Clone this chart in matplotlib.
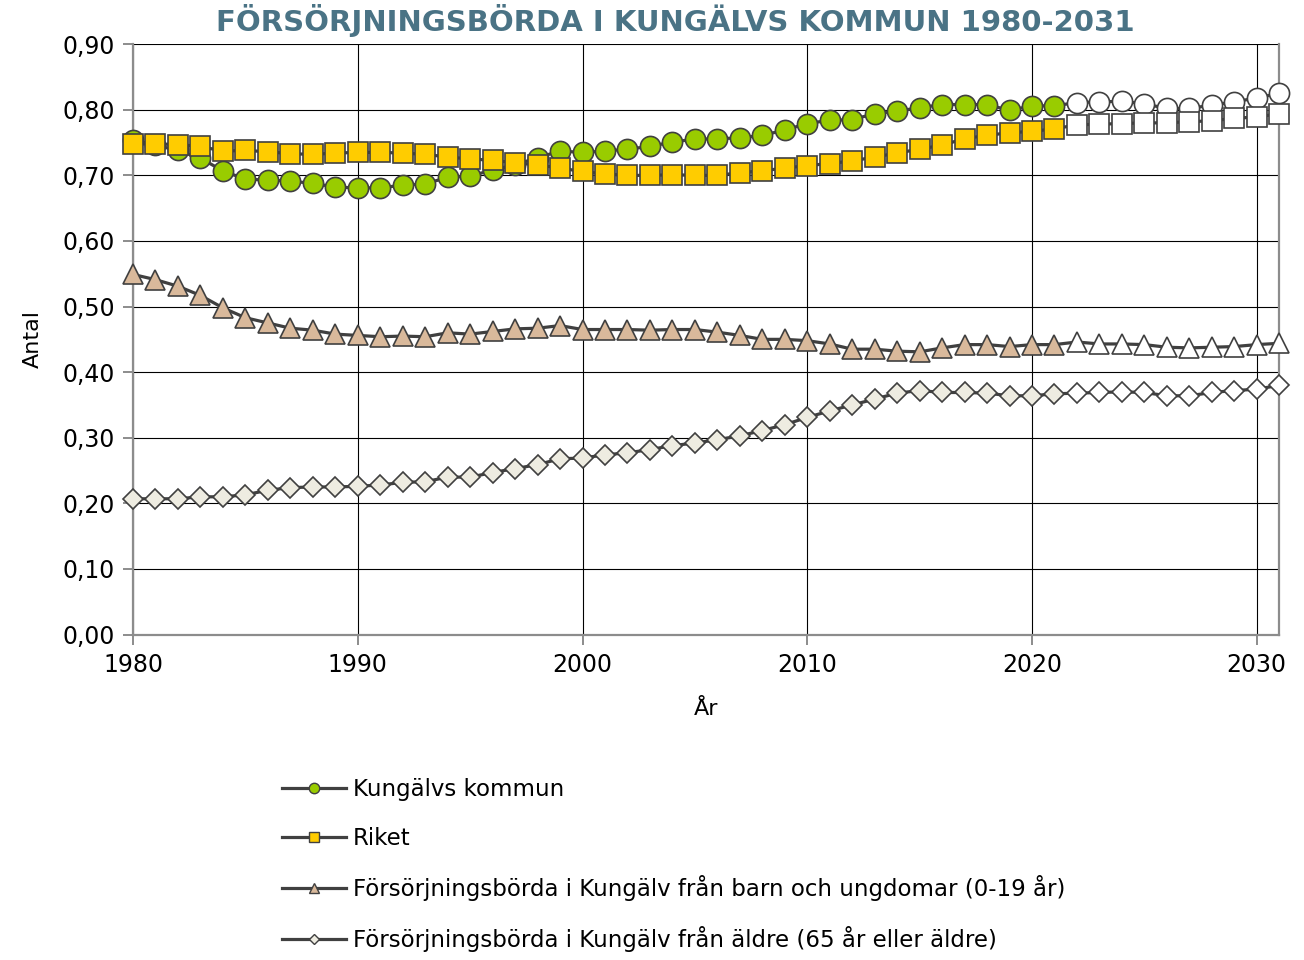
import numpy as np
import matplotlib
matplotlib.use("Agg")
import matplotlib.pyplot as plt
from matplotlib.lines import Line2D
from matplotlib.ticker import FuncFormatter, MultipleLocator

# År 1980-2031; från 2022 är det prognos (ofyllda markörer)
years = list(range(1980, 2032))
first_prognos = 2022

kommun = [0.754, 0.746, 0.738, 0.726, 0.707, 0.694, 0.693, 0.691, 0.688, 0.682,
          0.681, 0.681, 0.685, 0.687, 0.697, 0.699, 0.708, 0.716, 0.727, 0.737,
          0.735, 0.737, 0.740, 0.744, 0.751, 0.755, 0.756, 0.757, 0.761, 0.769,
          0.779, 0.784, 0.785, 0.794, 0.798, 0.803, 0.808, 0.808, 0.808, 0.799,
          0.806, 0.806, 0.811, 0.812, 0.813, 0.809, 0.802, 0.802, 0.807, 0.812,
          0.818, 0.825]
riket = [0.748, 0.748, 0.747, 0.744, 0.737, 0.738, 0.736, 0.733, 0.732, 0.734,
         0.735, 0.735, 0.734, 0.732, 0.728, 0.725, 0.723, 0.719, 0.716, 0.711,
         0.706, 0.702, 0.700, 0.700, 0.701, 0.700, 0.700, 0.704, 0.707, 0.711,
         0.715, 0.718, 0.722, 0.728, 0.734, 0.740, 0.746, 0.756, 0.761, 0.765,
         0.767, 0.771, 0.777, 0.778, 0.779, 0.780, 0.780, 0.782, 0.783, 0.787,
         0.789, 0.794]
barn = [0.549, 0.541, 0.531, 0.517, 0.498, 0.483, 0.475, 0.467, 0.464, 0.458,
        0.456, 0.454, 0.455, 0.454, 0.460, 0.458, 0.462, 0.466, 0.467, 0.471,
        0.465, 0.465, 0.465, 0.464, 0.465, 0.465, 0.461, 0.456, 0.450, 0.450,
        0.448, 0.443, 0.435, 0.435, 0.432, 0.431, 0.437, 0.442, 0.442, 0.439,
        0.442, 0.442, 0.446, 0.443, 0.443, 0.442, 0.438, 0.437, 0.438, 0.439,
        0.442, 0.444]
aldre = [0.207, 0.207, 0.207, 0.210, 0.210, 0.213, 0.220, 0.224, 0.225, 0.225,
         0.226, 0.228, 0.232, 0.233, 0.240, 0.240, 0.247, 0.253, 0.259, 0.268,
         0.269, 0.274, 0.277, 0.282, 0.288, 0.292, 0.297, 0.303, 0.311, 0.320,
         0.331, 0.341, 0.350, 0.359, 0.368, 0.372, 0.369, 0.369, 0.368, 0.364,
         0.364, 0.367, 0.368, 0.369, 0.370, 0.369, 0.364, 0.364, 0.369, 0.372,
         0.374, 0.380]

labels = ["Kungälvs kommun", "Riket",
          "Försörjningsbörda i Kungälv från barn och ungdomar (0-19 år)",
          "Försörjningsbörda i Kungälv från äldre (65 år eller äldre)"]
series = [kommun, riket, barn, aldre]
markers = ["o", "s", "^", "D"]
sizes = [14.5, 14.0, 14.5, 9.8]
fills = ["#99cc00", "#ffcc00", "#d9b99b", "#eeece1"]

line_col = "#404040"
plt.rcParams["font.family"] = ["DejaVu Sans"]

fig = plt.figure(figsize=(13.04, 9.6), dpi=100)
ax = fig.add_axes([0.102, 0.339, 0.879, 0.615])

x = np.array(years)
hist = x < first_prognos
for vals, m, ms, fc in zip(series, markers, sizes, fills):
    y = np.array(vals)
    ax.plot(x, y, color=line_col, lw=2.3, zorder=3, clip_on=False)
    ax.plot(x[hist], y[hist], ls="none", marker=m, ms=ms, mfc=fc,
            mec=line_col, mew=1.2, zorder=3, clip_on=False)
    ax.plot(x[~hist], y[~hist], ls="none", marker=m, ms=ms, mfc="white",
            mec=line_col, mew=1.2, zorder=3, clip_on=False)

ax.set_xlim(1980, 2031)
ax.set_ylim(0, 0.9)
ax.xaxis.set_major_locator(MultipleLocator(10))
ax.yaxis.set_major_locator(MultipleLocator(0.1))
ax.yaxis.set_major_formatter(FuncFormatter(lambda v, p: f"{v:.2f}".replace(".", ",")))
ax.grid(True, color="black", lw=0.8, zorder=1)
ax.set_axisbelow(True)
for s in ["left", "bottom", "right"]:
    ax.spines[s].set_color("#8c8c8c")
    ax.spines[s].set_linewidth(1.6)
ax.spines["top"].set_visible(False)
ax.tick_params(axis="both", direction="out", length=7, width=1.4,
               color="#8c8c8c", labelsize=17, pad=6)

ax.set_xlabel("År", fontsize=16, labelpad=16)
ax.set_ylabel("Antal", fontsize=16, labelpad=14)

fig.text(0.518, 0.979, "FÖRSÖRJNINGSBÖRDA I KUNGÄLVS KOMMUN 1980-2031",
         ha="center", va="center", fontsize=21, fontweight="bold",
         color="#4a7385")

handles = [Line2D([], [], color=line_col, lw=2.3, marker=m, ms=7.5 if m != "D" else 5.5,
                  mfc=fc, mec=line_col, mew=1.0)
           for m, fc in zip(markers, fills)]
fig.legend(handles, labels, loc="upper left", bbox_to_anchor=(0.209, 0.199),
           frameon=False, fontsize=16.5, handlelength=2.8, handletextpad=0.3,
           labelspacing=1.11, borderaxespad=0)

fig.savefig("out.png", dpi=100)
